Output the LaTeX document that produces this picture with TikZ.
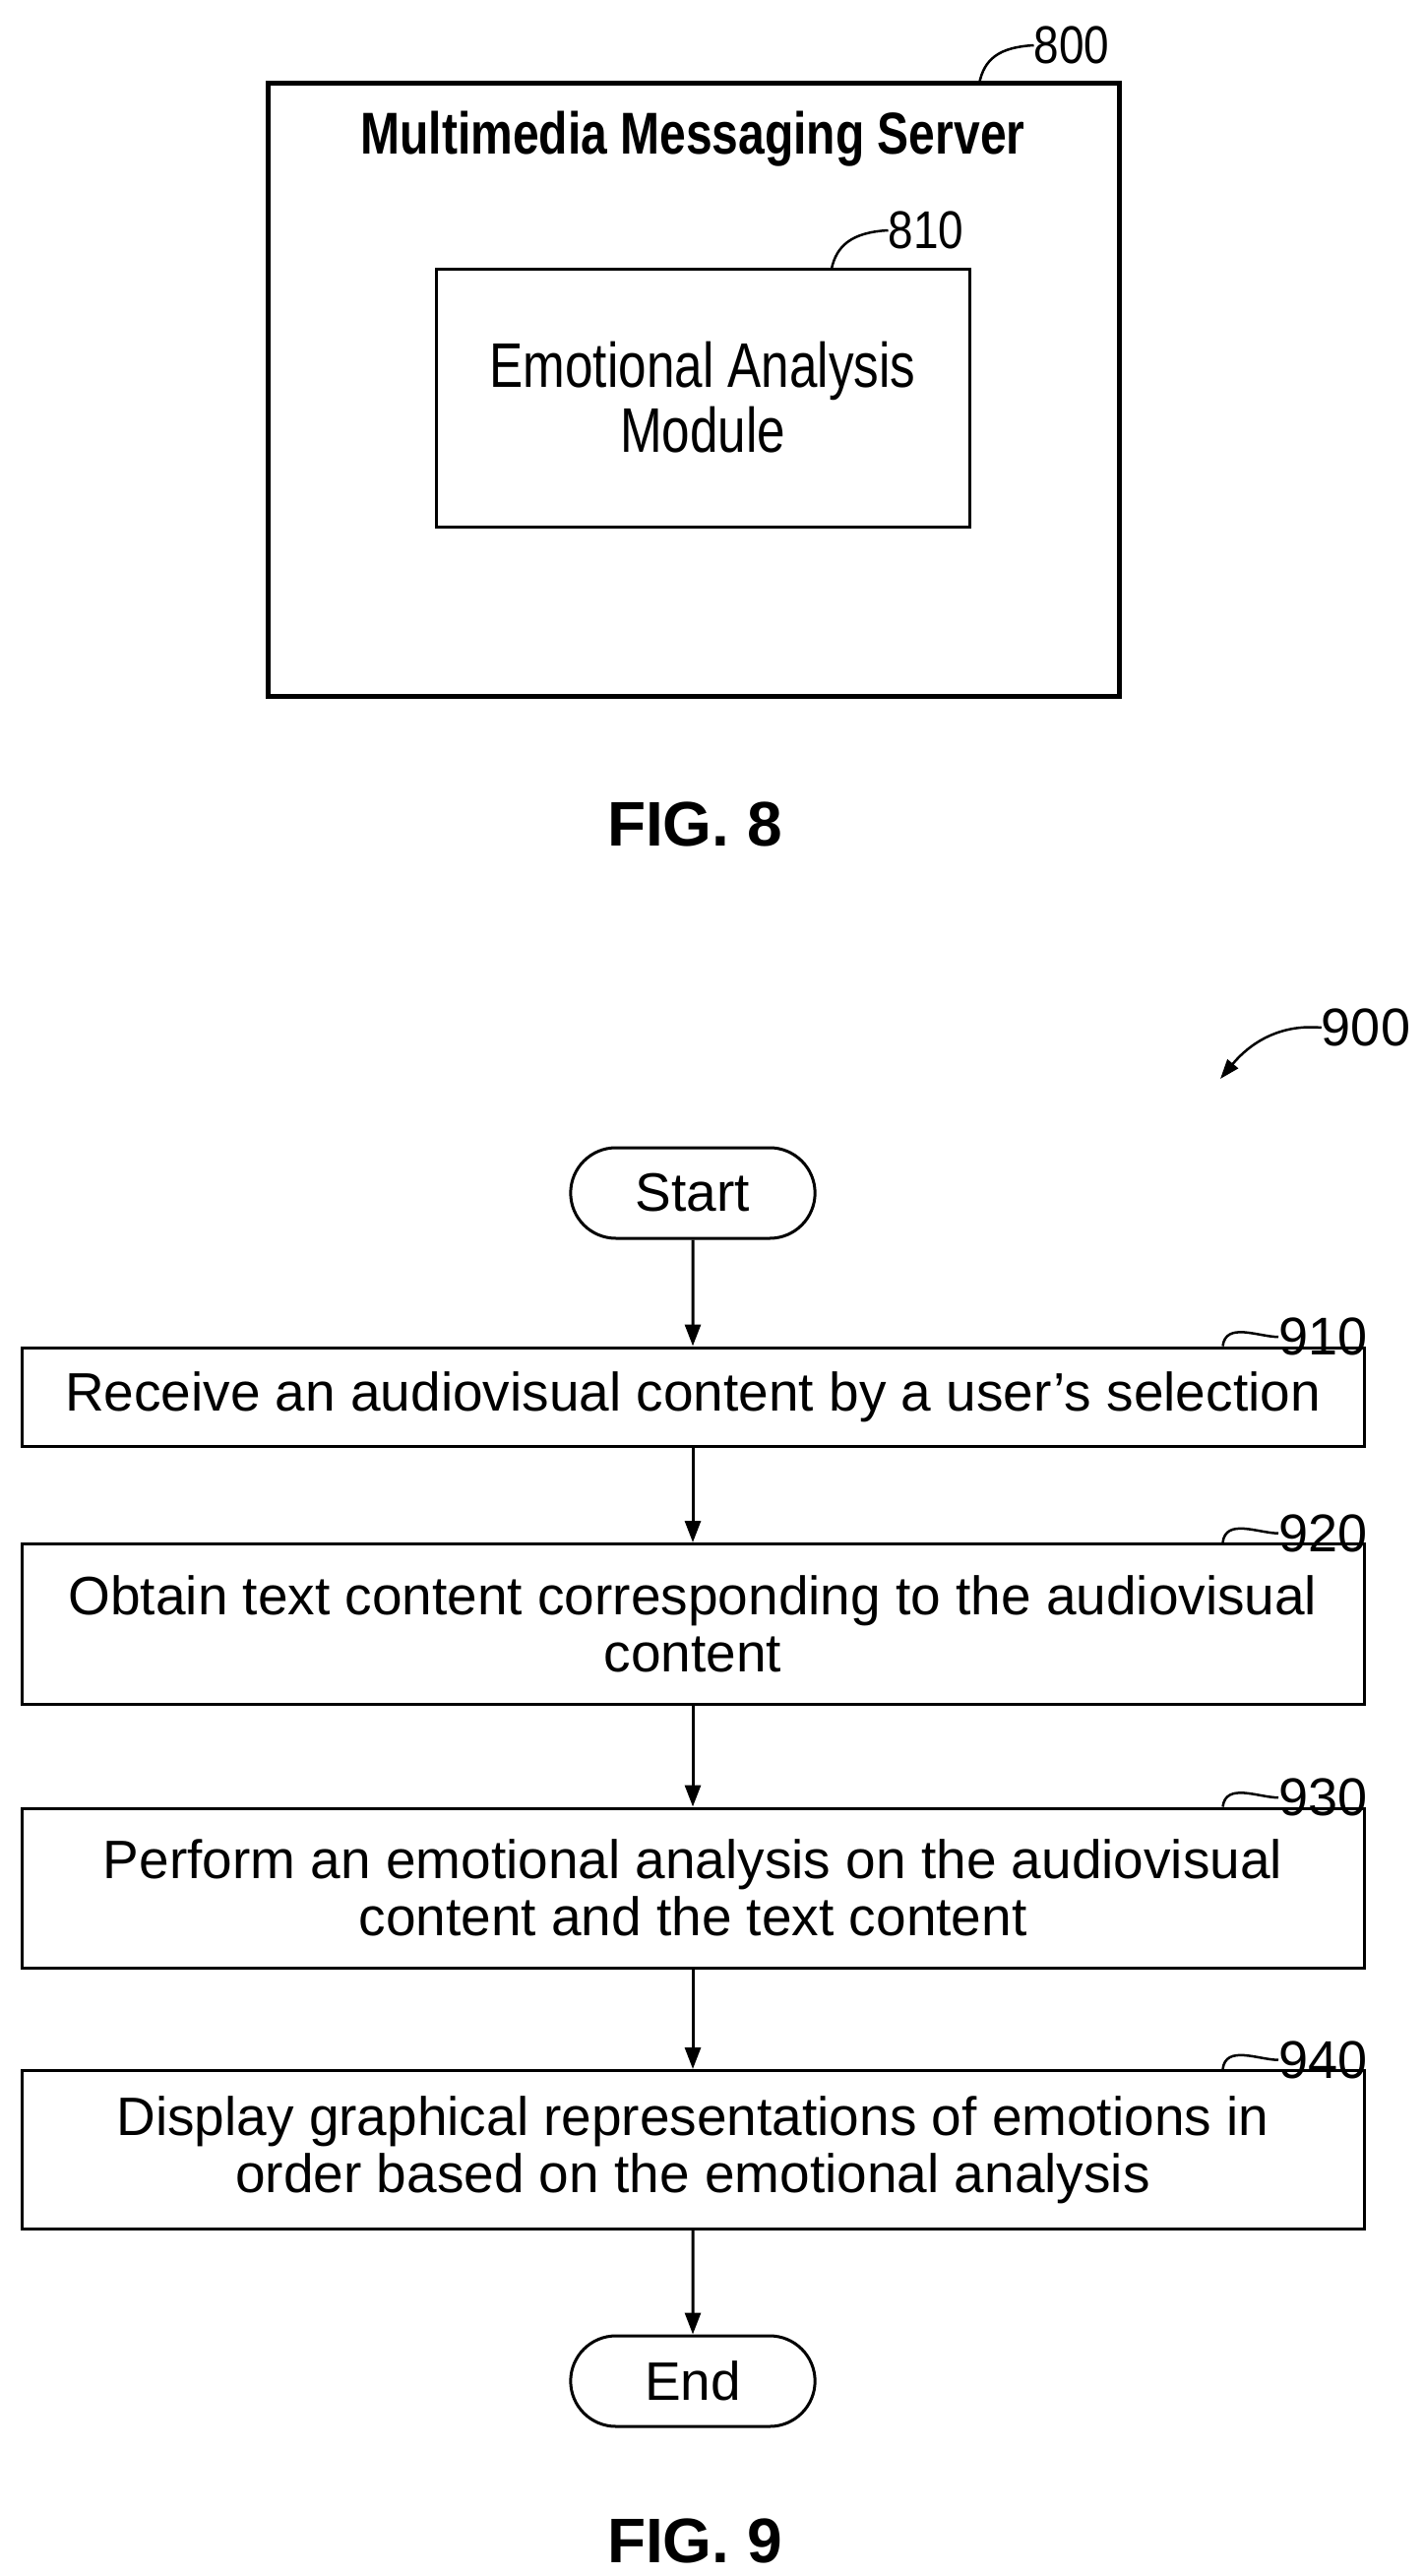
\documentclass[tikz,border=0pt]{standalone}
\usepackage{fontspec}
\usepackage{graphicx}
\setmainfont{Liberation Sans}
\usetikzlibrary{arrows.meta,shapes.misc}
\begin{document}
\begin{tikzpicture}[x=1pt,y=-1pt,
  box/.style={draw,line width=3pt,inner sep=0pt},
  flowstep/.style={box,minimum width=1364pt,align=center,font=\fontsize{55}{64}\selectfont},
  term/.style={draw,line width=3pt,rounded rectangle,minimum width=255pt,minimum height=92pt,font=\fontsize{55}{64}\selectfont},
  num/.style={font=\fontsize{54}{60}\selectfont,inner sep=0pt},
  lead/.style={line width=2.5pt},
  arr/.style={line width=3pt,-{Triangle[length=22pt,width=16pt]}}]
\useasboundingbox (0,0) rectangle (1446,2617);
% FIG 8
\node[box,line width=5pt,minimum width=865pt,minimum height=622pt] (srv) at (704.5,396) {};
\node[font=\bfseries\fontsize{60}{64}\selectfont,inner sep=0pt] (srvt) at (704,141) {\scalebox{0.8}[1]{Multimedia Messaging Server}};
\node[box,minimum width=542pt,minimum height=262pt,align=center,font=\fontsize{64}{70}\selectfont] (mod) at (714,404) {\scalebox{0.8}[1]{Emotional Analysis}\\[-4pt]\scalebox{0.8}[1]{Module}};
\node[num] (n800) at (1089,46) {\scalebox{0.85}[1]{800}};
\draw[lead] (995,85) .. controls (1000,60) and (1015,48) .. (n800.west);
\node[num] (n810) at (941,234) {\scalebox{0.85}[1]{810}};
\draw[lead] (845,273) .. controls (850,250) and (865,236) .. (n810.west);
\node[font=\bfseries\fontsize{64}{70}\selectfont,inner sep=0pt] (f8) at (706,837) {FIG. 8};
% FIG 9
\node[num] (n900) at (1388,1044) {900};
\coordinate (a900) at (1240,1096);
\draw[lead,-{Triangle[length=20pt,width=14pt]}] (n900.west) .. controls (1300,1040) and (1270,1060) .. (a900);
\node[term] (start) at (704,1212) {Start};
\node[flowstep,minimum height=100pt] (s910) at (704,1419) {Receive an audiovisual content by a user's selection};
\node[flowstep,minimum height=163pt] (s920) at (704,1650) {Obtain text content corresponding to the audiovisual\\[-6pt] content};
\node[flowstep,minimum height=162pt] (s930) at (704,1918) {Perform an emotional analysis on the audiovisual\\[-6pt] content and the text content};
\node[flowstep,minimum height=161pt] (s940) at (704,2184) {Display graphical representations of emotions in\\[-6pt] order based on the emotional analysis};
\node[term] (end) at (704,2419) {End};
\foreach \s/\n in {s910/910,s920/920,s930/930,s940/940}{
  \node[num,anchor=south east] (l\n) at ([xshift=2pt,yshift=-10pt]\s.north east) {\n};
  \draw[lead] ([xshift=-145pt]\s.north east) .. controls +(3,-25) and +(-20,0) .. (l\n.west);
}
\draw[arr] (start) -- (s910);
\draw[arr] (s910) -- (s920);
\draw[arr] (s920) -- (s930);
\draw[arr] (s930) -- (s940);
\draw[arr] (s940) -- (end);
\node[font=\bfseries\fontsize{64}{70}\selectfont,inner sep=0pt] (f9) at (706,2581) {FIG. 9};
\end{tikzpicture}
\end{document}
